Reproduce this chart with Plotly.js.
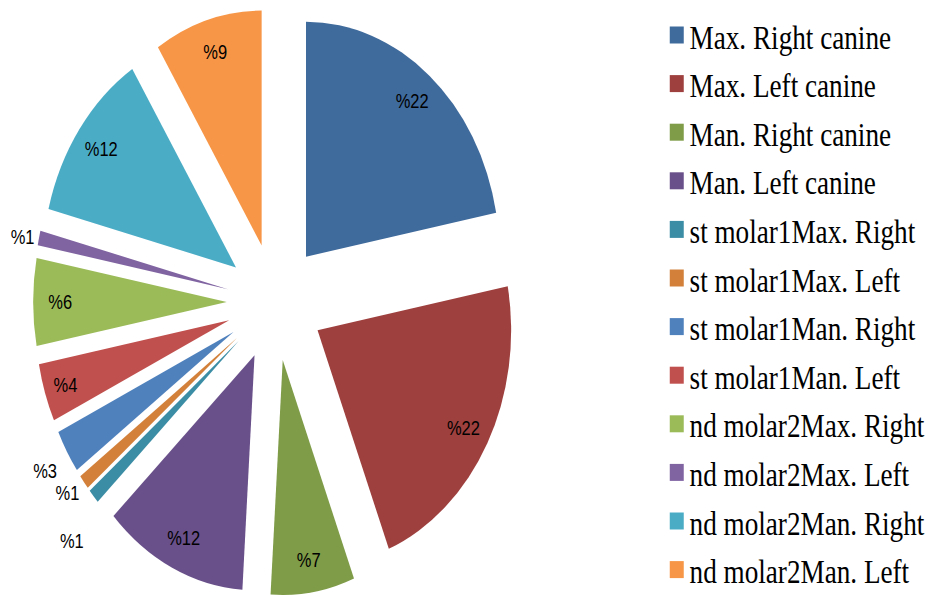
<!DOCTYPE html>
<html><head><meta charset="utf-8">
<script src="https://cdn.plot.ly/plotly-3.0.1.min.js"></script>
<style>
html,body{margin:0;padding:0;overflow:hidden;background:#fff;}
#wrap{width:935px;height:598px;overflow:hidden;position:relative;}
#chart{width:1135px;height:598px;transform:scaleX(0.8238);transform-origin:0 0;}
#chart .textline{display:none;}
</style></head>
<body><div id="wrap"><div id="chart"></div></div>
<script>
const categories = ['Max. Right canine','Max. Left canine','Man. Right canine','Man. Left canine',
  'st molar1Max. Right','st molar1Max. Left','st molar1Man. Right','st molar1Man. Left',
  'nd molar2Max. Right','nd molar2Max. Left','nd molar2Man. Right','nd molar2Man. Left'];
const values = [22, 22, 7, 12, 1, 1, 3, 4, 6, 1, 12, 9];
const sliceColors = ['#3F6A9C','#9E403E','#7F9C48','#69508A','#3B8DA5','#D2803A',
  '#4F81BD','#C0504D','#9BBB59','#8064A2','#4BACC6','#F79646'];
const pctLabels = values.map(v => '%' + v);
const labelPositions = ['inside','inside','inside','inside','outside','outside','outside','inside','inside','outside','inside','inside'];
// some outside labels sit one line lower than their slice end
const labelDrop = [false,false,false,false,true,false,true,false,false,false,false,false];

const W = 1135, H = 598;
const pullFrac = 0.25;
const cxPx = 334, cyPx = 302, half = 235 * (1 + pullFrac);
const dom = {x: [(cxPx - half) / W, (cxPx + half) / W], y: [1 - (cyPx + half) / H, 1 - (cyPx - half) / H]};

const pieFill = {
  type: 'pie', values: values, labels: categories, sort: false, direction: 'clockwise', rotation: 0,
  pull: pullFrac, domain: dom, textinfo: 'none', showlegend: false,
  marker: {colors: sliceColors, line: {width: 0}}, hoverinfo: 'label+percent'
};
const pieText = {
  type: 'pie', values: values, labels: categories, sort: false, direction: 'clockwise', rotation: 0,
  pull: pullFrac, domain: dom, hole: 0.72, showlegend: false,
  marker: {colors: values.map(() => 'rgba(0,0,0,0)'), line: {width: 0}},
  text: pctLabels.map((t, i) => labelDrop[i] ? '&nbsp;<br>' + t : t), textinfo: 'text', textposition: labelPositions,
  insidetextorientation: 'horizontal',
  textfont: {family: 'Liberation Sans, Arial, sans-serif', size: 20, color: '#000'},
  outsidetextfont: {family: 'Liberation Sans, Arial, sans-serif', size: 20, color: '#000'},
  hoverinfo: 'skip'
};

const shapes = [], annotations = [];
const rowTop = 35, rowStep = 48.6, sq = 17, sqLeft = 813, txtLeft = 835;
categories.forEach((c, i) => {
  const yc = rowTop + i * rowStep;
  shapes.push({type: 'rect', xref: 'paper', yref: 'paper',
    x0: sqLeft / W, x1: (sqLeft + sq) / W, y0: 1 - (yc + sq / 2) / H, y1: 1 - (yc - sq / 2) / H,
    fillcolor: sliceColors[i], line: {width: 0}});
  annotations.push({xref: 'paper', yref: 'paper', x: txtLeft / W, y: 1 - (yc + 2.5) / H,
    xanchor: 'left', yanchor: 'middle', showarrow: false, text: c,
    font: {family: 'Liberation Serif, Times New Roman, serif', size: 33, color: '#000'}});
});

const layout = {
  width: W, height: H, margin: {l: 0, r: 0, t: 0, b: 0},
  paper_bgcolor: '#fff', plot_bgcolor: '#fff', showlegend: false,
  shapes: shapes, annotations: annotations
};
Plotly.newPlot('chart', [pieFill, pieText], layout, {displayModeBar: false, staticPlot: true});
</script>
</body></html>
